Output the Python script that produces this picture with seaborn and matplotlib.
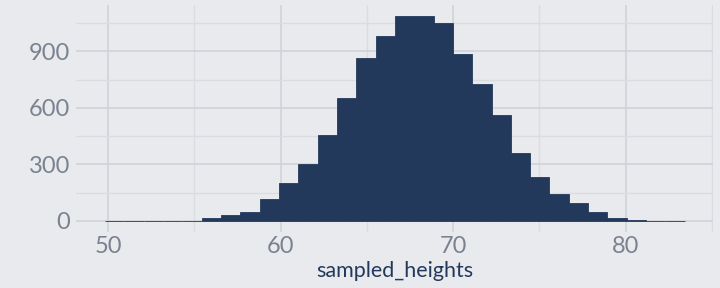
import numpy as np
import pandas as pd
import seaborn as sns
import matplotlib.pyplot as plt
from matplotlib.ticker import MultipleLocator

# Histogram data (30 bins)
bin_start = 49.83
bin_width = 1.12
counts = [1, 0, 1, 1, 2, 13, 29, 45, 114, 200,
          302, 457, 650, 864, 982, 1089, 1089, 1052, 886, 725,
          564, 361, 232, 141, 93, 45, 13, 7, 2, 2]
x_ticks = [50, 60, 70, 80]
y_ticks = [0, 300, 600, 900]

edges = [float(bin_start + bin_width * i) for i in range(len(counts) + 1)]
centers = [(edges[i] + edges[i + 1]) / 2 for i in range(len(counts))]
df = pd.DataFrame({"sampled_heights": centers, "count": counts})

BG = "#E9EAEE"
GRID = "#CFD2D8"
GRID_MINOR = "#DADCE1"
BAR = "#23395B"
TICK = "#7A8290"

sns.set_theme(style="darkgrid")
plt.rcParams["font.family"] = ["Lato", "DejaVu Sans"]

fig = plt.figure(figsize=(7.2, 2.88), dpi=100)
fig.patch.set_facecolor(BG)
ax = fig.add_axes([76 / 720, 1 - 232 / 288, (713 - 76) / 720, (232 - 5) / 288])
ax.set_facecolor(BG)

sns.histplot(data=df, x="sampled_heights", weights="count", bins=edges,
             color=BAR, alpha=1, edgecolor=BAR, linewidth=0.6, ax=ax)

ax.set_xlim(48.14, 85.07)
ax.set_ylim(-59, 1146)
ax.set_xticks(x_ticks)
ax.set_yticks(y_ticks)
ax.xaxis.set_minor_locator(MultipleLocator(5))
ax.yaxis.set_minor_locator(MultipleLocator(150))
ax.grid(which="major", color=GRID, linewidth=1.2)
ax.grid(which="minor", color=GRID_MINOR, linewidth=1.0)
ax.set_axisbelow(True)
for s in ax.spines.values():
    s.set_visible(False)

ax.tick_params(axis="both", which="major", labelsize=17, colors=GRID,
               labelcolor=TICK, length=3, width=1.2, pad=1)
ax.tick_params(axis="both", which="minor", length=0)
ax.tick_params(axis="x", which="major", length=0, pad=3)
ax.set_xlabel("sampled_heights", fontsize=15.5, color=BAR, labelpad=3)
ax.set_ylabel("")

fig.savefig("out.png", dpi=100, facecolor=BG)
